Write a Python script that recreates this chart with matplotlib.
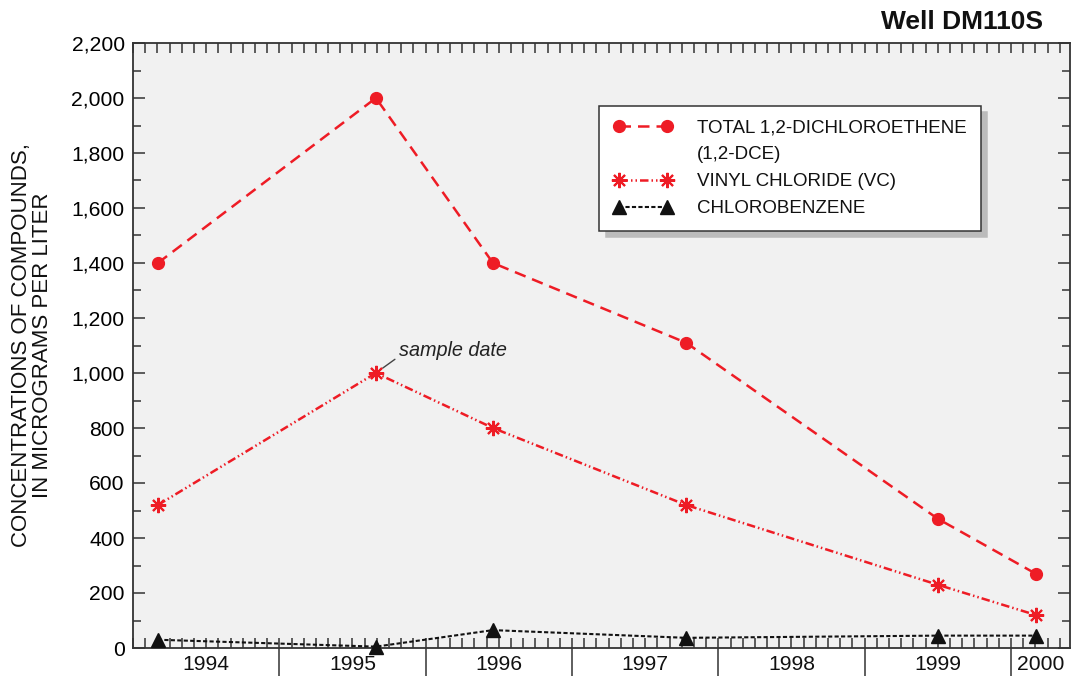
import matplotlib
matplotlib.use("Agg")
import matplotlib.pyplot as plt
from matplotlib.ticker import FixedLocator, MultipleLocator, FuncFormatter
from matplotlib.lines import Line2D
import matplotlib.transforms as mtransforms
import numpy as np

plt.rcParams['font.family'] = ['Liberation Sans', 'DejaVu Sans']

# ---- data ----
sample_dates = [1994.17, 1995.66, 1996.46, 1997.78, 1999.50, 2000.17]
dce = [1400, 2000, 1400, 1110, 470, 270]
vc = [520, 1000, 800, 520, 230, 120]
chlorobenzene = [30, 5, 65, 37, 45, 45]
year_labels = ["1994", "1995", "1996", "1997", "1998", "1999", "2000"]
year_starts = [1994, 1995, 1996, 1997, 1998, 1999, 2000]
x_min, x_max = 1994.0, 2000.40
y_max = 2200

RED = "#EE1C25"
DARK = "#333333"

fig = plt.figure(figsize=(10.71, 6.79), dpi=100)
ax = fig.add_axes([133/1071, 31/679, (1069.5-133)/1071, (648-43)/679])
ax.set_facecolor("#F1F1F1")

ax.plot(sample_dates, dce, color=RED, lw=1.8, dashes=(4.6, 2.8),
        marker='o', ms=8.5, mfc=RED, mec=RED, zorder=4,
        label="TOTAL 1,2-DICHLOROETHENE")
ax.plot(sample_dates, vc, color=RED, lw=1.8, dashes=(3.4, 1.2, 0.6, 1.2, 0.6, 1.2),
        marker=(8, 2, 0), ms=11, mew=1.5, mec=RED, zorder=4,
        label="VINYL CHLORIDE (VC)")
ax.plot(sample_dates, chlorobenzene, color="#111111", lw=1.5, dashes=(2, 1.1),
        marker='^', ms=9.5, mfc="#111111", mec="#111111", zorder=4, clip_on=False,
        label="CHLOROBENZENE")

ax.set_xlim(x_min, x_max)
ax.set_ylim(0, y_max)

# y ticks
ax.yaxis.set_major_locator(MultipleLocator(200))
ax.yaxis.set_minor_locator(MultipleLocator(100))
ax.yaxis.set_major_formatter(FuncFormatter(lambda v, p: f"{int(v):,}"))
ax.tick_params(axis='y', which='major', direction='in', length=8.5, width=1.1,
               color=DARK, left=True, right=True, labelsize=15.2, pad=6)
ax.tick_params(axis='y', which='minor', direction='in', length=5.8, width=1.1,
               color=DARK, left=True, right=True)

# x ticks: year boundaries long outward, months inward
ax.xaxis.set_major_locator(FixedLocator(year_starts[1:]))
months = np.arange(x_min, x_max + 1e-9, 1/12)
ax.xaxis.set_minor_locator(FixedLocator(months))
ax.xaxis.remove_overlapping_locs = False
ax.tick_params(axis='x', which='major', direction='out', length=20, width=1.1,
               color=DARK, bottom=True, top=False, labelbottom=False)
ax.tick_params(axis='x', which='minor', direction='in', length=7.2, width=1.1,
               color=DARK, bottom=True, top=True)

# year labels centred between boundaries
trans = mtransforms.blended_transform_factory(ax.transData, ax.transAxes)
for lab, ys in zip(year_labels, year_starts):
    xe = min(ys + 1, x_max)
    ax.text((ys + xe) / 2, -0.028, lab, transform=trans, ha='center', va='center',
            fontsize=15.2, color="#111111")

for s in ax.spines.values():
    s.set_color(DARK)
    s.set_linewidth(1.3)

ax.set_ylabel("CONCENTRATIONS OF COMPOUNDS,\nIN MICROGRAMS PER LITER",
              fontsize=16, color="#111111", labelpad=13, linespacing=1.05)

fig.text(1043/1071, 1 - 22/679, "Well DM110S", ha='right', va='center',
         fontsize=19, fontweight='bold', color="#111111")

# annotation
ax.annotate("sample date", xy=(sample_dates[1], vc[1]), xytext=(16.5, 16),
            textcoords='offset points', ha='left', va='center', fontsize=14.3,
            style='italic', color="#222222",
            arrowprops=dict(arrowstyle='-', color="#444444", lw=1,
                            shrinkA=1, shrinkB=6, relpos=(0, 0.2)))

# legend
h = ax.get_legend_handles_labels()[0]
blank = Line2D([], [], linestyle='none', marker=None)
handles = [h[0], blank, h[1], h[2]]
labels = ["TOTAL 1,2-DICHLOROETHENE", "(1,2-DCE)", "VINYL CHLORIDE (VC)", "CHLOROBENZENE"]
leg = ax.legend(handles, labels, loc='upper left', bbox_to_anchor=(0.498, 0.896),
                fontsize=13.5, frameon=True, fancybox=False, numpoints=2,
                handlelength=3.2, handletextpad=1.3, labelspacing=0.52,
                borderpad=0.72, borderaxespad=0,
                shadow={'ox': 4.5, 'oy': -4.5, 'color': '#BBBBBB', 'alpha': 1})
leg.get_frame().set_edgecolor(DARK)
leg.get_frame().set_linewidth(1.1)
leg.get_frame().set_facecolor('white')
for t in leg.get_texts():
    t.set_color("#111111")

fig.savefig("out.png", dpi=100)
